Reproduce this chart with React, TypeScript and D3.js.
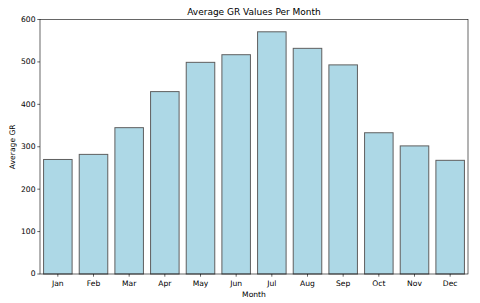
import React from 'react';
import * as d3 from 'd3';

// dados
const months = ['Jan', 'Feb', 'Mar', 'Apr', 'May', 'Jun', 'Jul', 'Aug', 'Sep', 'Oct', 'Nov', 'Dec'];
const avgGR = [270, 282, 345, 430, 499, 517, 571, 532, 493, 333, 302, 268];
const yTicks = [0, 100, 200, 300, 400, 500, 600];

const width = 480;
const height = 303;
const margin = { top: 19.5, right: 12, bottom: 29, left: 40 };
const font = '"DejaVu Sans", sans-serif';

export default function App() {
    const x = d3.scaleBand()
        .domain(months)
        .range([margin.left, width - margin.right])
        .paddingInner(0.2)
        .paddingOuter(0.1);

    const y = d3.scaleLinear()
        .domain([0, 600])
        .range([height - margin.bottom, margin.top]);

    const x0 = margin.left;
    const x1 = width - margin.right;
    const y0 = height - margin.bottom;
    const y1 = margin.top;

    return (
        <svg width={width} height={height} style={{ position: 'fixed', left: 0, top: 0, background: '#fff' }}
            fontFamily={font}>
            <text x={(x0 + x1) / 2} y={15} textAnchor="middle" fontSize={9} fill="#000">
                Average GR Values Per Month
            </text>

            {months.map((m, i) => (
                <rect key={m}
                    x={x(m)}
                    y={y(avgGR[i])}
                    width={x.bandwidth()}
                    height={y(0) - y(avgGR[i])}
                    fill="#add8e6"
                    stroke="#5f5f5f"
                    strokeWidth={1} />
            ))}

            {/* eixo y */}
            {yTicks.map(t => (
                <g key={t} transform={`translate(0,${y(t)})`}>
                    <line x1={x0 - 2.7} x2={x0} stroke="#000" strokeWidth={0.6} />
                    <text x={x0 - 4.5} dy="0.32em" textAnchor="end" fontSize={7.6} fill="#000">{t}</text>
                </g>
            ))}

            {/* eixo x */}
            {months.map(m => (
                <g key={m} transform={`translate(${x(m)! + x.bandwidth() / 2},0)`}>
                    <line y1={y0} y2={y0 + 2.7} stroke="#000" strokeWidth={0.6} />
                    <text y={y0 + 11.8} textAnchor="middle" fontSize={7.6} fill="#000">{m}</text>
                </g>
            ))}

            <rect x={x0} y={y1} width={x1 - x0} height={y0 - y1} fill="none" stroke="#000" strokeWidth={0.6} />

            <text x={(x0 + x1) / 2} y={297} textAnchor="middle" fontSize={7.6} fill="#000">Month</text>
            <text transform={`translate(14.5,${(y0 + y1) / 2}) rotate(-90)`} textAnchor="middle" fontSize={7.6} fill="#000">
                Average GR
            </text>
        </svg>
    );
}
